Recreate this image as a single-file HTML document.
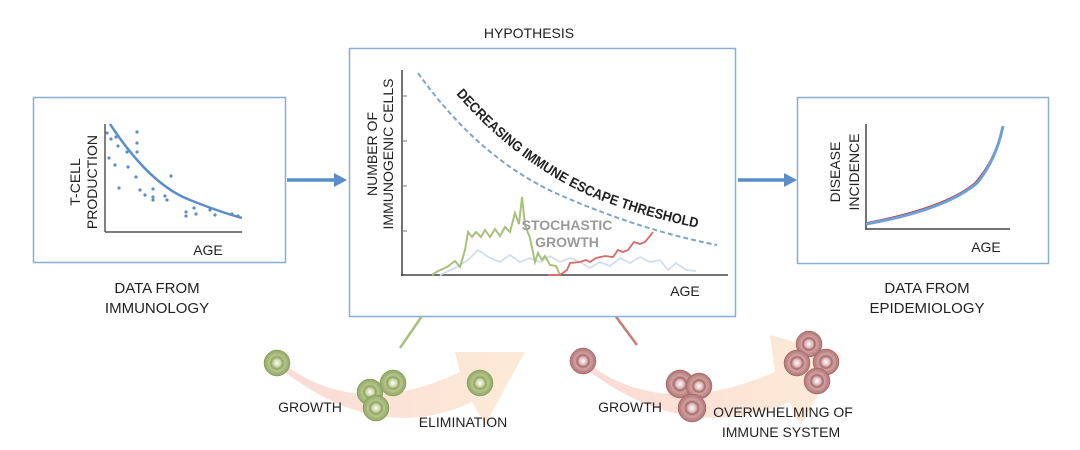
<!DOCTYPE html>
<html><head><meta charset="utf-8"><style>
html,body{margin:0;padding:0;background:#fff}
svg{display:block}
text{font-family:"Liberation Sans",sans-serif;fill:#222}
</style></head><body>
<svg width="1080" height="450" viewBox="0 0 1080 450" xmlns="http://www.w3.org/2000/svg">
<defs>
<radialGradient id="gc" cx="50%" cy="50%" r="50%">
<stop offset="0" stop-color="#fff"/><stop offset="0.3" stop-color="#c9d6a6"/><stop offset="0.45" stop-color="#8ea45c"/><stop offset="0.6" stop-color="#b5c58c"/><stop offset="1" stop-color="#8fa563"/>
</radialGradient>
<radialGradient id="rc" cx="50%" cy="50%" r="50%">
<stop offset="0" stop-color="#fff"/><stop offset="0.3" stop-color="#dfb8b8"/><stop offset="0.45" stop-color="#a66a6a"/><stop offset="0.6" stop-color="#d1a0a0"/><stop offset="1" stop-color="#ad7373"/>
</radialGradient>
<linearGradient id="ar" x1="0" y1="0" x2="1" y2="0">
<stop offset="0" stop-color="#f8d2cc" stop-opacity="0.8"/><stop offset="1" stop-color="#fde6cc" stop-opacity="0.8"/>
</linearGradient>
</defs>

<path d="M285,365 Q360,420 460,372 L455,352 L525,352 L485,425 L472,402 Q380,445 285,372 Z" fill="url(#ar)"/>
<path d="M590,365 Q665,420 775,372 L770,335 L842,355 L800,425 L790,402 Q690,445 590,372 Z" fill="url(#ar)"/>

<line x1="446" y1="281" x2="400" y2="348" stroke="#a9c07a" stroke-width="2.5"/>
<line x1="588" y1="279" x2="637" y2="345" stroke="#c97a76" stroke-width="2.5"/>

<rect x="33.5" y="97.5" width="252" height="165" fill="#fff" stroke="#8aaed6" stroke-width="1.5"/>
<rect x="349.5" y="48.5" width="386" height="268" fill="#fff" stroke="#8aaed6" stroke-width="1.5"/>
<rect x="797.5" y="97.5" width="251" height="166" fill="#fff" stroke="#8aaed6" stroke-width="1.5"/>

<line x1="287" y1="180" x2="336" y2="180" stroke="#5b8ec8" stroke-width="3.5"/>
<polygon points="334,173 347,180 334,187" fill="#5b8ec8"/>
<line x1="738" y1="180" x2="786" y2="180" stroke="#5b8ec8" stroke-width="3.5"/>
<polygon points="784,173 797,180 784,187" fill="#5b8ec8"/>

<!-- left chart -->
<line x1="105" y1="124" x2="105" y2="232" stroke="#555" stroke-width="1.5"/>
<line x1="105" y1="232" x2="242" y2="232" stroke="#555" stroke-width="1.5"/>
<path d="M110,124 Q150,185 190,200 Q220,212 242,218" fill="none" stroke="#5b8ec8" stroke-width="2.5"/>
<g fill="#5b8ec8">
<circle cx="107" cy="133" r="1.6"/><circle cx="111" cy="139" r="1.6"/><circle cx="116" cy="137" r="1.6"/><circle cx="118" cy="146" r="1.6"/><circle cx="109" cy="158" r="1.6"/><circle cx="115" cy="165" r="1.6"/><circle cx="119" cy="188" r="1.6"/><circle cx="127" cy="152" r="1.6"/><circle cx="128" cy="167" r="1.6"/><circle cx="137" cy="132" r="1.6"/><circle cx="137" cy="143" r="1.6"/><circle cx="137" cy="152" r="1.6"/><circle cx="136" cy="177" r="1.6"/><circle cx="140" cy="190" r="1.6"/><circle cx="145" cy="195" r="1.6"/><circle cx="153" cy="189" r="1.6"/><circle cx="153" cy="197" r="1.6"/><circle cx="153" cy="200" r="1.6"/><circle cx="165" cy="196" r="1.6"/><circle cx="167" cy="200" r="1.6"/><circle cx="171" cy="176" r="1.6"/><circle cx="186" cy="212" r="1.6"/><circle cx="186" cy="216" r="1.6"/><circle cx="194" cy="208" r="1.6"/><circle cx="196" cy="214" r="1.6"/><circle cx="210" cy="210" r="1.6"/><circle cx="215" cy="215" r="1.6"/><circle cx="232" cy="214" r="1.6"/><circle cx="238" cy="216" r="1.6"/>
</g>
<text transform="translate(80,182) rotate(-90)" font-size="14" text-anchor="middle">T-CELL</text>
<text transform="translate(97,182) rotate(-90)" font-size="14" text-anchor="middle">PRODUCTION</text>
<text x="208" y="255" font-size="14" text-anchor="middle">AGE</text>
<text x="157" y="293" font-size="15" text-anchor="middle">DATA FROM</text>
<text x="157" y="313" font-size="15" text-anchor="middle">IMMUNOLOGY</text>

<!-- middle chart -->
<text x="529" y="38" font-size="14" text-anchor="middle">HYPOTHESIS</text>
<line x1="402" y1="70" x2="402" y2="276" stroke="#444" stroke-width="1.5"/>
<line x1="401" y1="275" x2="728" y2="275" stroke="#444" stroke-width="1.5"/>
<g stroke="#777" stroke-width="1"><line x1="402" y1="96" x2="407" y2="96"/><line x1="402" y1="141" x2="407" y2="141"/><line x1="402" y1="186" x2="407" y2="186"/><line x1="402" y1="231" x2="407" y2="231"/></g>
<path d="M418,73 Q480,160 560,195 Q640,230 717,245" fill="none" stroke="#7fa4c9" stroke-width="2" stroke-dasharray="5,3"/>
<path id="thr" d="M456,94 Q515,162 590,196 Q650,220 720,232" fill="none"/>
<text font-size="14" font-weight="bold" fill="#111"><textPath href="#thr" textLength="282" lengthAdjust="spacingAndGlyphs">DECREASING IMMUNE ESCAPE THRESHOLD</textPath></text>
<polyline fill="none" stroke="#d3ddf0" stroke-width="1.8" points="440,275 455,268 468,260 478,250 490,258 500,262 510,255 520,262 530,258 540,262 550,256 560,262 570,258 580,262 590,268 600,262 610,266 620,258 630,263 640,257 650,262 660,260 668,270 676,263 686,270 696,271"/>
<polyline fill="none" stroke="#a9c07a" stroke-width="2" points="432,275 438,271 447,267 455,261 460,267 465,250 468,232 472,237 476,232 481,237 485,230 490,237 495,229 500,236 505,227 510,232 515,213 519,224 522,197 525,225 530,238 535,262 538,253 542,260 545,256 550,265 556,266 560,275"/>
<polyline fill="none" stroke="#d66a66" stroke-width="1.8" points="548,275 560,275 567,270 570,263 580,262 586,260 590,262 596,258 605,256 613,257 618,250 623,252 628,250 634,242 640,244 645,242 650,236 653,232"/>
<text x="567" y="230" font-size="14" font-weight="bold" text-anchor="middle" style="fill:#9a9a9a">STOCHASTIC</text>
<text x="567" y="247" font-size="14" font-weight="bold" text-anchor="middle" style="fill:#9a9a9a">GROWTH</text>
<text transform="translate(377,154) rotate(-90)" font-size="14" text-anchor="middle">NUMBER OF</text>
<text transform="translate(393,154) rotate(-90)" font-size="14" text-anchor="middle">IMMUNOGENIC CELLS</text>
<text x="685" y="296" font-size="14" text-anchor="middle">AGE</text>

<!-- right chart -->
<line x1="866" y1="124" x2="866" y2="230" stroke="#444" stroke-width="1.5"/>
<line x1="866" y1="229" x2="1010" y2="229" stroke="#444" stroke-width="1.5"/>
<path d="M866,223 Q945,208 975,183 Q995,160 1003,127" fill="none" stroke="#b22" stroke-width="1.5"/>
<path d="M866,224 Q945,210 977,183 Q996,160 1003,126" fill="none" stroke="#6f9fd6" stroke-width="3"/>
<text transform="translate(840,172) rotate(-90)" font-size="14" text-anchor="middle">DISEASE</text>
<text transform="translate(859,172) rotate(-90)" font-size="14" text-anchor="middle">INCIDENCE</text>
<text x="986" y="252" font-size="14" text-anchor="middle">AGE</text>
<text x="927" y="293" font-size="15" text-anchor="middle">DATA FROM</text>
<text x="927" y="313" font-size="15" text-anchor="middle">EPIDEMIOLOGY</text>

<!-- cells -->
<g stroke="#7f9a50" stroke-width="0.5">
<circle cx="277" cy="363" r="13" fill="url(#gc)"/>
<circle cx="370" cy="392" r="13" fill="url(#gc)"/>
<circle cx="393" cy="383" r="13" fill="url(#gc)"/>
<circle cx="376" cy="408" r="13" fill="url(#gc)"/>
<circle cx="480" cy="383" r="13" fill="url(#gc)"/>
</g>
<g stroke="#9a6060" stroke-width="0.5">
<circle cx="583" cy="361" r="13" fill="url(#rc)"/>
<circle cx="680" cy="384" r="14" fill="url(#rc)"/>
<circle cx="699" cy="386" r="13" fill="url(#rc)"/>
<circle cx="692" cy="408" r="14" fill="url(#rc)"/>
<circle cx="809" cy="344" r="13" fill="url(#rc)"/>
<circle cx="797" cy="363" r="13" fill="url(#rc)"/>
<circle cx="826" cy="362" r="13" fill="url(#rc)"/>
<circle cx="817" cy="381" r="13" fill="url(#rc)"/>
</g>
<text x="310" y="412" font-size="14" text-anchor="middle">GROWTH</text>
<text x="463" y="427" font-size="14" text-anchor="middle">ELIMINATION</text>
<text x="630" y="412" font-size="14" text-anchor="middle">GROWTH</text>
<text x="783" y="417" font-size="14" text-anchor="middle">OVERWHELMING OF</text>
<text x="781" y="437" font-size="14" text-anchor="middle">IMMUNE SYSTEM</text>
</svg>
</body></html>
